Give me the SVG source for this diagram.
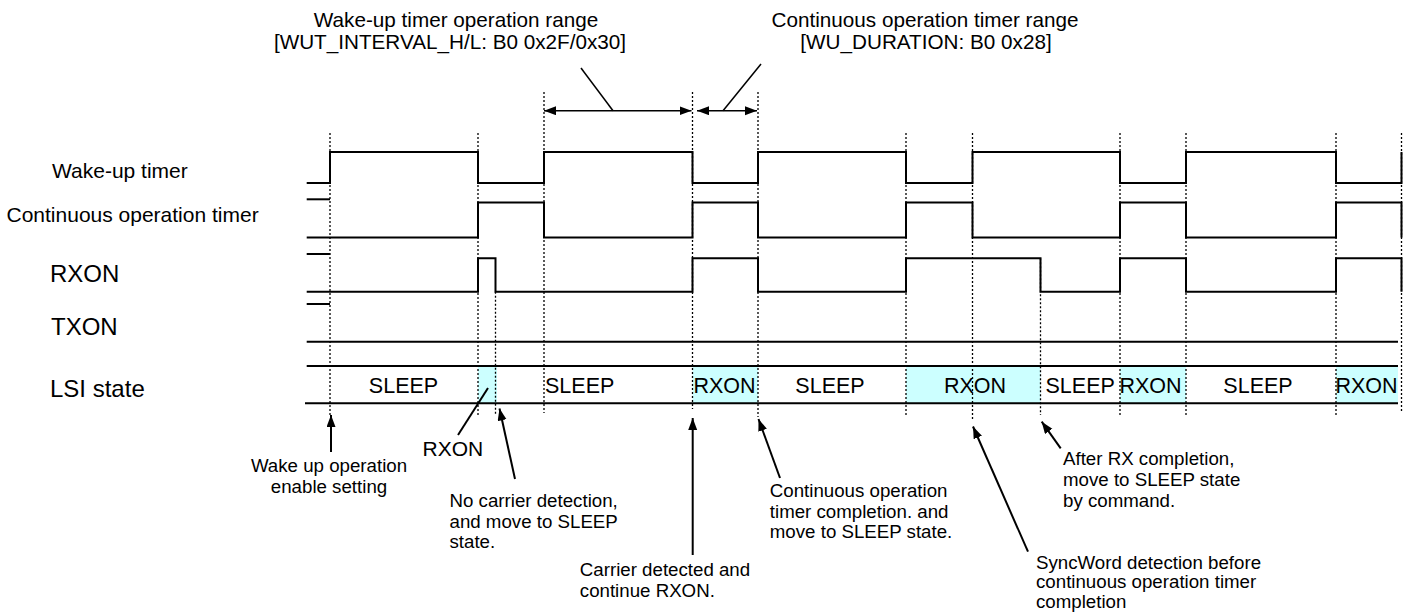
<svg xmlns="http://www.w3.org/2000/svg" width="1406" height="612" viewBox="0 0 1406 612">
<style>
  .bg{fill:#ffffff}
  .wave{fill:none;stroke:#000;stroke-width:2;stroke-linejoin:miter}
  .dot{fill:none;stroke:#000;stroke-width:1.3;stroke-dasharray:2 2}
  .rx{fill:#ccffff;stroke:none}
  .lbl{font-family:"Liberation Sans",Arial,sans-serif;font-size:21px;fill:#000}
  .big{font-family:"Liberation Sans",Arial,sans-serif;font-size:24px;fill:#000}
  .st{font-family:"Liberation Sans",Arial,sans-serif;font-size:21.5px;fill:#000}
  .top{font-family:"Liberation Sans",Arial,sans-serif;font-size:20.7px;fill:#000}
  .ann{font-family:"Liberation Sans",Arial,sans-serif;font-size:18.7px;fill:#000}
  .rng{fill:none;stroke:#000;stroke-width:1.5}
  .arr{fill:none;stroke:#000;stroke-width:2}
</style>
<defs>
  <marker id="ah" markerUnits="userSpaceOnUse" markerWidth="13" markerHeight="10" refX="12" refY="4.5" orient="auto-start-reverse" viewBox="0 0 13 10">
    <path d="M0,0 L12,4.5 L0,9 z" fill="#000"/>
  </marker>
</defs>
<rect class="bg" x="0" y="0" width="1406" height="612"/>

<g id="lsi-rxon-fills">
  <rect class="rx" x="478" y="366" width="19" height="37.3"/>
  <rect class="rx" x="692.5" y="366" width="65.5" height="37.3"/>
  <rect class="rx" x="906" y="366" width="134.5" height="37.3"/>
  <rect class="rx" x="1120" y="366" width="66" height="37.3"/>
  <rect class="rx" x="1336" y="366" width="62" height="37.3"/>
</g>

<g id="guides">
  <path class="dot" d="M330,133 V415 M478,133 V415 M495.5,291.7 V415 M544,92 V413 M692.5,92 V409 M758,92 V417 M906,133 V415 M972.5,133 V420 M1040.5,258.3 V415 M1120,133 V415 M1186,133 V415 M1336,133 V415 M1401.5,133 V413"/>
</g>

<g id="wakeup-timer">
  <text class="lbl" x="52" y="177.5">Wake-up timer</text>
  <path class="wave" d="M306.7,183 H330 V152 H478 V183 H544 V152 H692.5 V183 H758 V152 H906 V183 H972.5 V152 H1120 V183 H1186 V152 H1336 V183 H1401.5 V152"/>
</g>

<g id="continuous-timer">
  <text class="lbl" x="6.5" y="221.5">Continuous operation timer</text>
  <path class="wave" d="M306.7,199.3 H330"/>
  <path class="wave" d="M306.7,237.5 H478 V202.5 H544 V237.5 H692.5 V202.5 H758 V237.5 H906 V202.5 H972.5 V237.5 H1120 V202.5 H1186 V237.5 H1336 V202.5 H1401.5 V237.5"/>
</g>

<g id="rxon">
  <text class="big" x="50" y="282">RXON</text>
  <path class="wave" d="M306.7,254 H330"/>
  <path class="wave" d="M306.7,291.7 H478 V258.3 H495.5 V291.7 H692.5 V258.3 H758 V291.7 H906 V258.3 H1040.5 V291.7 H1120 V258.3 H1186 V291.7 H1336 V258.3 H1401.5 V291.7"/>
</g>

<g id="txon">
  <text class="big" x="51" y="335">TXON</text>
  <path class="wave" d="M306.7,304 H330"/>
  <path class="wave" d="M306.7,341.7 H1398"/>
</g>

<g id="lsi-state">
  <text class="big" x="50" y="396.5">LSI state</text>
  <path class="wave" d="M306.7,366 H1398 M305,403.3 H1398"/>
  <text class="st" x="403.5" y="393" text-anchor="middle">SLEEP</text>
  <text class="st" x="545" y="393">SLEEP</text>
  <text class="st" x="693.5" y="393">RXON</text>
  <text class="st" x="830" y="393" text-anchor="middle">SLEEP</text>
  <text class="st" x="975" y="393" text-anchor="middle">RXON</text>
  <text class="st" x="1045.5" y="393">SLEEP</text>
  <text class="st" x="1119.5" y="393">RXON</text>
  <text class="st" x="1258" y="393" text-anchor="middle">SLEEP</text>
  <text class="st" x="1335.5" y="393">RXON</text>
</g>

<g id="range-wakeup">
  <text class="top" x="456" y="27.3" text-anchor="middle">Wake-up timer operation range</text>
  <text class="top" x="450" y="49" text-anchor="middle">[WUT_INTERVAL_H/L: B0 0x2F/0x30]</text>
</g>
<g id="range-continuous">
  <text class="top" x="925" y="27.3" text-anchor="middle">Continuous operation timer range</text>
  <text class="top" x="926" y="49" text-anchor="middle">[WU_DURATION: B0 0x28]</text>
</g>

<g id="note-wakeup-enable">
  <text class="ann" x="329" y="471.7" text-anchor="middle">Wake up operation</text>
  <text class="ann" x="329" y="493.3" text-anchor="middle">enable setting</text>
</g>
<g id="note-rxon">
  <text class="lbl" x="422.5" y="455.5">RXON</text>
</g>
<g id="note-no-carrier">
  <text class="ann" x="449.5" y="506.5">No carrier detection,</text>
  <text class="ann" x="449.5" y="527.5">and move to SLEEP</text>
  <text class="ann" x="449.5" y="548.3">state.</text>
</g>
<g id="note-carrier-detected">
  <text class="ann" x="579.8" y="576">Carrier detected and</text>
  <text class="ann" x="579.8" y="596.7">continue RXON.</text>
</g>
<g id="note-timer-completion">
  <text class="ann" x="769.8" y="496.7">Continuous operation</text>
  <text class="ann" x="769.8" y="517.7">timer completion. and</text>
  <text class="ann" x="769.8" y="537.7">move to SLEEP state.</text>
</g>
<g id="note-syncword">
  <text class="ann" x="1036" y="569">SyncWord detection before</text>
  <text class="ann" x="1036" y="588.3">continuous operation timer</text>
  <text class="ann" x="1036" y="607.6">completion</text>
</g>
<g id="note-after-rx">
  <text class="ann" x="1063" y="465">After RX completion,</text>
  <text class="ann" x="1063" y="486">move to SLEEP state</text>
  <text class="ann" x="1063" y="507">by command.</text>
</g>

<g id="connectors">
  <line class="rng" x1="544" y1="110.7" x2="691.5" y2="110.7" marker-start="url(#ah)" marker-end="url(#ah)"/>
  <line class="rng" x1="697" y1="110.7" x2="757" y2="110.7" marker-start="url(#ah)" marker-end="url(#ah)"/>
  <line class="rng" x1="581" y1="68" x2="613" y2="110.7"/>
  <line class="rng" x1="761" y1="64" x2="723" y2="110.7"/>
  <line class="arr" x1="488" y1="388" x2="458" y2="435"/>
  <line class="arr" x1="331" y1="452" x2="331" y2="415" marker-end="url(#ah)"/>
  <line class="arr" x1="515" y1="479" x2="499.5" y2="408.5" marker-end="url(#ah)"/>
  <line class="arr" x1="692.7" y1="555" x2="692.7" y2="418" marker-end="url(#ah)"/>
  <line class="arr" x1="780" y1="478" x2="758.5" y2="419" marker-end="url(#ah)"/>
  <line class="arr" x1="1028" y1="551.7" x2="973" y2="426.5" marker-end="url(#ah)"/>
  <line class="arr" x1="1060.7" y1="448.3" x2="1041.7" y2="421.7" marker-end="url(#ah)"/>
</g>
</svg>
